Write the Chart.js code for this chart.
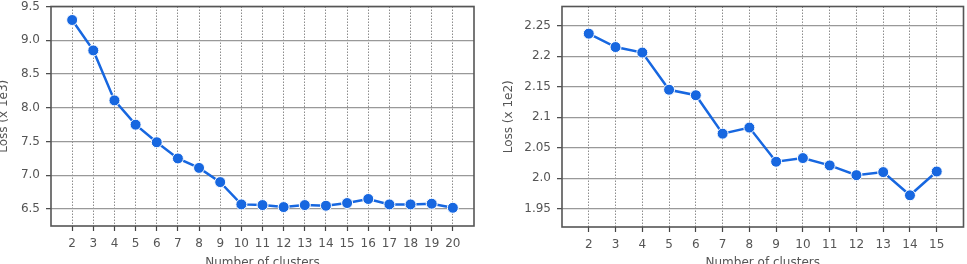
<!DOCTYPE html>
<html><head><meta charset="utf-8">
<script src="https://cdn.jsdelivr.net/npm/chart.js@4"></script>
<style>
html,body{margin:0;padding:0;width:967px;height:264px;overflow:hidden;background:#fff;position:relative;}
.box{position:absolute;top:0;height:270px;}
</style></head><body>
<div class="box" style="left:-3px;width:486px"><canvas id="c1"></canvas></div>
<div class="box" style="left:502px;width:468px"><canvas id="c2"></canvas></div>
<script>
// ---- data ----
const clustersA = [2,3,4,5,6,7,8,9,10,11,12,13,14,15,16,17,18,19,20];
const lossA = [9.30,8.85,8.11,7.75,7.49,7.25,7.11,6.90,6.57,6.56,6.53,6.56,6.55,6.59,6.65,6.57,6.57,6.58,6.52];
const yTicksA = [6.5,7.0,7.5,8.0,8.5,9.0,9.5];
const yTickLabelsA = ['6.5','7.0','7.5','8.0','8.5','9.0','9.5'];

const clustersB = [2,3,4,5,6,7,8,9,10,11,12,13,14,15];
const lossB = [2.237,2.215,2.206,2.145,2.136,2.073,2.083,2.027,2.033,2.021,2.005,2.010,1.972,2.011];
const yTicksB = [1.95,2.0,2.05,2.1,2.15,2.2,2.25];
const yTickLabelsB = ['1.95','2.0','2.05','2.1','2.15','2.2','2.25'];

const xTitle = 'Number of clusters';
const yTitleA = 'Loss (x 1e3)';
const yTitleB = 'Loss (x 1e2)';

// ---- styling ----
const FONT = {family:'DejaVu Sans', size:12};
const TXT = '#555';
const BLUE = '#1767e0';

const framePlugin = {
  id:'frame',
  afterDatasetsDraw(chart){
    const a = chart.chartArea, ctx = chart.ctx;
    ctx.save();
    ctx.strokeStyle = '#555';
    ctx.lineWidth = 1.6;
    ctx.strokeRect(a.left, a.top, a.right - a.left, a.bottom - a.top);
    ctx.restore();
  }
};

function makeChart(id, xs, ys, xmin, xmax, ymin, ymax, yTicks, yLabels, yTitle, padTop, padRight, yWidth, xHeight){
  new Chart(document.getElementById(id), {
    type:'line',
    data:{datasets:[{
      data: xs.map((x,i)=>({x:x, y:ys[i]})),
      borderColor:BLUE, backgroundColor:BLUE,
      borderWidth:2.5, tension:0,
      pointRadius:5.5, pointBackgroundColor:BLUE,
      pointBorderColor:'#ffffff', pointBorderWidth:1
    }]},
    options:{
      responsive:true, maintainAspectRatio:false, animation:false,
      layout:{padding:{left:0,right:padRight,top:padTop,bottom:0}},
      plugins:{legend:{display:false}, tooltip:{enabled:false}},
      scales:{
        x:{
          type:'linear', min:xmin, max:xmax,
          afterBuildTicks:s=>{ s.ticks = xs.map(v=>({value:v})); },
          afterFit:s=>{ s.height = xHeight; s.paddingLeft = 0; s.paddingRight = 0; },
          grid:{color:'#8c8c8c', lineWidth:1, drawTicks:true, tickLength:5, tickColor:'#444', tickWidth:1.2, tickBorderDash:[]},
          border:{display:false, dash:[1.5,1.5]},
          ticks:{color:TXT, font:FONT, padding:6, maxRotation:0, autoSkip:false, callback:v=>String(v)},
          title:{display:true, text:xTitle, color:TXT, font:FONT, padding:0}
        },
        y:{
          type:'linear', min:ymin, max:ymax,
          afterBuildTicks:s=>{ s.ticks = yTicks.map(v=>({value:v})); },
          afterFit:s=>{ s.width = yWidth; s.paddingTop = 0; s.paddingBottom = 0; },
          grid:{color:'#999', lineWidth:1.3, drawTicks:true, tickLength:5, tickColor:'#444', tickWidth:1.2, tickBorderDash:[]},
          border:{display:false},
          ticks:{color:TXT, font:FONT, padding:6, autoSkip:false, callback:(v,i)=>yLabels[i]},
          title:{display:true, text:yTitle, color:TXT, font:FONT, padding:0}
        }
      }
    },
    plugins:[framePlugin]
  });
}

makeChart('c1', clustersA, lossA, 1, 21, 6.25, 9.5, yTicksA, yTickLabelsA, yTitleA, 4, 9, 54, 44);
makeChart('c2', clustersB, lossB, 1, 16, 1.92, 2.2815, yTicksB, yTickLabelsB, yTitleB, 5, 4, 60, 43);
</script>
</body></html>
